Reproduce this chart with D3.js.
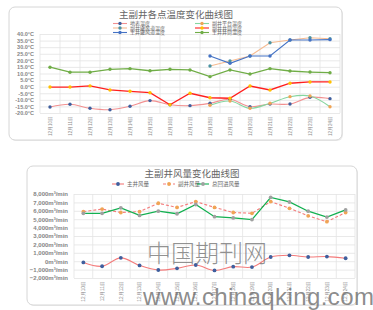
<!DOCTYPE html>
<html>
<head>
<meta charset="utf-8">
<script src="https://cdn.jsdelivr.net/npm/d3@7"></script>
<style>
body { margin: 0; background: #fff; }
svg { display: block; font-family: "Liberation Sans", "Noto Sans CJK SC", sans-serif; }
</style>
</head>
<body>
<script>
'use strict';

// grafico 1 - temperatura
const datas1 = ['12月10日', '12月11日', '12月12日', '12月13日', '12月14日', '12月15日', '12月16日', '12月17日',
    '12月18日', '12月19日', '12月20日', '12月21日', '12月22日', '12月23日', '12月24日']
const temperaturaTicks = [40, 35, 30, 25, 20, 15, 10, 5, 0, -5, -10, -15, -20]
const diBiao = [-15.4, -13.4, -16.4, -17.5, -14.9, -10.6, -13.7, -14.4, -12.6, -9.6, -15.2, -13.2, -13.2, -8.1, -9.1]
const fuJingGuanFengDao = [null, null, null, null, null, null, null, null, 15.7, 19.5, 23.3, 33.4, 35.4, 37.2, 36.4]
const zhuJingGuanFengDao = [null, null, null, null, null, null, null, null, 23.3, 17.7, 23.3, 23.3, 35.4, 35.4, 35.7]
const fuJingPingTai = [null, null, null, null, null, null, null, null, -14.1, -10.9, -16.4, -12.6, -7.6, -7.1, -15.2]
const fuJingJingTong = [-0.3, -0.3, 0.6, -2.5, -3.5, -4.6, -13.7, -5.0, -8.4, -8.8, 0.5, -2.5, 2.6, 3.6, 3.6]
const zhuJingJingTong = [14.8, 11.0, 11.0, 13.2, 13.7, 12.1, 13.2, 12.7, 7.6, 12.7, 9.6, 13.7, 11.9, 11.1, 10.6]

// grafico 2 - vazao de ar
const datas2 = ['12月10日', '12月11日', '12月12日', '12月13日', '12月14日', '12月15日', '12月16日', '12月17日',
    '12月18日', '12月19日', '12月20日', '12月21日', '12月22日', '12月23日', '12月24日']
const vazaoTicks = [8000, 7000, 6000, 5000, 4000, 3000, 2000, 1000, 0, -1000, -2000]
const zhuJingFengLiang = [-150, -600, 400, -500, -1050, -850, -450, -1100, -650, -700, 500, 700, 500, 550, 350]
const fuJingFengLiang = [5900, 6200, 5800, 5900, 6900, 6400, 7100, 6400, 5800, 5700, 7100, 6300, 5400, 4700, 5800]
const zongHuiJinFengLiang = [5700, 5700, 6350, 5450, 5950, 5650, 6750, 5300, 5150, 4950, 7600, 7050, 5950, 5250, 6100]

const svg = d3.select('body').append('svg')
    .attr('width', 373)
    .attr('height', 310)

class Grafico {
    constructor (cfg) {
        this.cfg = cfg
        this.g = svg.append('g')
        this.criaCartao()
        this.criaEscala()
        this.criaGrade()
        this.criaEixos()
        this.preenche()
        this.criaLegenda()
    }

    criaCartao() {
        let c = this.cfg.cartao
        this.g.append('rect')
            .attr('x', c.x + 1).attr('y', c.y + 1)
            .attr('width', c.w).attr('height', c.h)
            .attr('rx', 6)
            .attr('fill', '#ececec')
        this.g.append('rect')
            .attr('x', c.x).attr('y', c.y)
            .attr('width', c.w).attr('height', c.h)
            .attr('rx', 6)
            .attr('fill', '#fff')
            .attr('stroke', '#d6d6d6')
        this.g.append('text')
            .attr('x', this.cfg.titulo.x).attr('y', this.cfg.titulo.y)
            .attr('text-anchor', 'middle')
            .attr('font-size', 9.5)
            .attr('fill', '#666')
            .text(this.cfg.titulo.texto)
    }

    criaEscala() {
        let a = this.cfg.area
        this.escalaX = d3.scaleBand()
            .domain(this.cfg.categorias)
            .range([a.esquerda, a.direita])
        this.escalaY = d3.scaleLinear()
            .domain([d3.min(this.cfg.ticks), d3.max(this.cfg.ticks)])
            .range([a.baixo, a.topo])
    }

    criaGrade() {
        let a = this.cfg.area
        let grade = this.g.append('g')
            .attr('transform', `translate(${a.esquerda}, 0)`)
            .call(d3.axisLeft(this.escalaY).tickValues(this.cfg.ticks)
                .tickSize(-(a.direita - a.esquerda)).tickFormat(''))
        grade.select('.domain').remove()
        grade.selectAll('line').attr('stroke', '#e3e3e3').attr('stroke-width', 0.8)

        let bordas = this.cfg.categorias.map(d => this.escalaX(d)).concat([a.direita])
        this.g.append('g').selectAll('line').data(bordas).enter().append('line')
            .attr('x1', d => d).attr('x2', d => d)
            .attr('y1', a.topo).attr('y2', a.baixo)
            .attr('stroke', '#e3e3e3').attr('stroke-width', 0.8)
    }

    criaEixos() {
        let a = this.cfg.area
        let eixoY = this.g.append('g')
            .attr('transform', `translate(${a.esquerda - 3}, 0)`)
            .call(d3.axisLeft(this.escalaY).tickValues(this.cfg.ticks)
                .tickSize(0).tickFormat(this.cfg.formato))
        eixoY.select('.domain').remove()
        eixoY.selectAll('text')
            .attr('font-size', this.cfg.fonteEixo)
            .attr('font-family', '"Liberation Sans", sans-serif')
            .attr('font-weight', 'bold')
            .attr('fill', '#858585')

        let eixoX = this.g.append('g')
            .attr('transform', `translate(0, ${a.baixo + 3})`)
            .call(d3.axisBottom(this.escalaX).tickSize(0))
        eixoX.select('.domain').remove()
        eixoX.selectAll('text')
            .attr('font-size', this.cfg.fonteDatas)
            .attr('fill', '#8c8c8c')
            .attr('text-anchor', 'end')
            .attr('dy', '0.35em')
            .attr('y', 0)
            .attr('transform', 'rotate(-90)')
    }

    preenche() {
        let bw = this.escalaX.bandwidth()
        let cats = this.cfg.categorias
        for (let serie of this.cfg.series) {
            let linha = d3.line()
                .defined(d => d != null)
                .x((d, i) => this.escalaX(cats[i]) + bw / 2)
                .y(d => this.escalaY(d))
                .curve(serie.suave ? d3.curveCatmullRom.alpha(0.5) : d3.curveLinear)
            this.g.append('path')
                .attr('d', linha(serie.valores))
                .attr('fill', 'none')
                .attr('stroke', serie.cor)
                .attr('stroke-width', serie.largura || 1.1)
                .attr('stroke-dasharray', serie.tracejado ? '3,2' : null)
            let pontos = serie.valores.map((v, i) => ({v: v, c: cats[i]})).filter(p => p.v != null)
            this.g.append('g').selectAll('circle').data(pontos).enter().append('circle')
                .attr('cx', d => this.escalaX(d.c) + bw / 2)
                .attr('cy', d => this.escalaY(d.v))
                .attr('r', this.cfg.raio)
                .attr('fill', serie.marcador)
        }
    }

    criaLegenda() {
        for (let item of this.cfg.legenda) {
            let serie = this.cfg.series[item.serie]
            let lg = this.g.append('g').attr('transform', `translate(${item.x}, ${item.y})`)
            lg.append('line')
                .attr('x1', 0).attr('x2', this.cfg.larguraLegenda)
                .attr('stroke', serie.cor)
                .attr('stroke-width', 1.1)
                .attr('stroke-dasharray', serie.tracejado ? '3,2' : null)
            lg.append('circle')
                .attr('cx', this.cfg.larguraLegenda / 2)
                .attr('r', this.cfg.raio)
                .attr('fill', serie.marcador)
            lg.append('text')
                .attr('x', this.cfg.larguraLegenda + 3)
                .attr('dy', '0.35em')
                .attr('font-size', this.cfg.fonteLegenda)
                .attr('fill', '#666')
                .text(serie.nome)
        }
    }
}

new Grafico({
    cartao: {x: 9, y: 7, w: 333, h: 133},
    titulo: {x: 176, y: 18, texto: '主副井各点温度变化曲线图'},
    area: {esquerda: 40, direita: 340, topo: 34, baixo: 113},
    categorias: datas1,
    ticks: temperaturaTicks,
    formato: d => d.toFixed(1) + '°C',
    fonteEixo: 5.5,
    fonteDatas: 4.5,
    fonteLegenda: 5,
    larguraLegenda: 14,
    raio: 1.7,
    series: [
        {nome: '地表温度', valores: diBiao, cor: '#f29090', marcador: '#3f5f9e', suave: true},
        {nome: '副井罐风道温度', valores: fuJingGuanFengDao, cor: '#f6bb91', marcador: '#4b94a3', suave: false},
        {nome: '主井罐风道温度', valores: zhuJingGuanFengDao, cor: '#4472c4', marcador: '#4472c4', suave: false},
        {nome: '副井平台温度', valores: fuJingPingTai, cor: '#86d6a0', marcador: '#f0a455', suave: true},
        {nome: '副井井筒温度', valores: fuJingJingTong, cor: '#ff1f1f', marcador: '#ffc000', suave: false, largura: 1.3},
        {nome: '主井井筒温度', valores: zhuJingJingTong, cor: '#70ad47', marcador: '#70ad47', suave: false, largura: 1.3}
    ],
    legenda: [
        {serie: 0, x: 113, y: 23.5},
        {serie: 1, x: 113, y: 28},
        {serie: 2, x: 113, y: 32.5},
        {serie: 3, x: 195, y: 23.5},
        {serie: 4, x: 195, y: 28},
        {serie: 5, x: 195, y: 32.5}
    ]
})

new Grafico({
    cartao: {x: 27, y: 166, w: 330, h: 139},
    titulo: {x: 192, y: 177, texto: '主副井风量变化曲线图'},
    area: {esquerda: 74, direita: 355, topo: 194, baixo: 278},
    categorias: datas2,
    ticks: vazaoTicks,
    formato: d => d3.format(',')(d) + 'm³/min',
    fonteEixo: 6,
    fonteDatas: 4.8,
    fonteLegenda: 5.5,
    larguraLegenda: 12,
    raio: 1.9,
    series: [
        {nome: '主井风量', valores: zhuJingFengLiang, cor: '#f47b7b', marcador: '#3f5f9e', suave: true},
        {nome: '副井风量', valores: fuJingFengLiang, cor: '#f47b7b', marcador: '#f0a455', suave: false, tracejado: true},
        {nome: '总回进风量', valores: zongHuiJinFengLiang, cor: '#12b050', marcador: '#a0a0a0', suave: false, largura: 1.3}
    ],
    legenda: [
        {serie: 0, x: 112, y: 184},
        {serie: 1, x: 163, y: 184},
        {serie: 2, x: 197, y: 184}
    ]
})

// marca d'agua
svg.append('text')
    .attr('x', 147).attr('y', 262)
    .attr('font-family', '"Noto Sans CJK SC", sans-serif')
    .attr('font-weight', 300)
    .attr('font-size', 24)
    .attr('fill', '#6e6e6e')
    .attr('fill-opacity', 0.75)
    .text('中国期刊网')
svg.append('text')
    .attr('x', 143).attr('y', 305)
    .attr('font-family', '"Liberation Sans", sans-serif')
    .attr('font-size', 24)
    .attr('letter-spacing', 0.4)
    .attr('fill', '#6e6e6e')
    .attr('fill-opacity', 0.8)
    .text('www.chinaqking.com')
</script>
</body>
</html>
